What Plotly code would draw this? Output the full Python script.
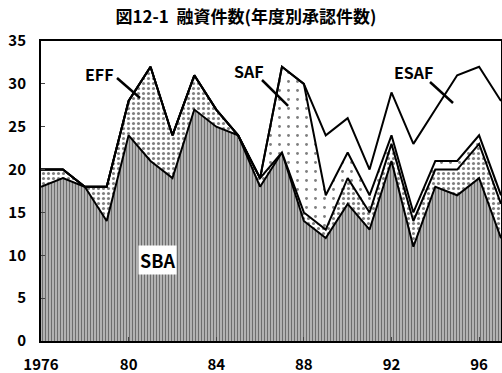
import plotly.graph_objects as go

years = list(range(1976, 1998))
sba = [18, 19, 18, 14, 24, 21, 19, 27, 25, 24, 18, 22, 14, 12, 16, 13, 21, 11, 18, 17, 19, 12]
eff = [2, 1, 0, 4, 4, 11, 5, 4, 2, 0, 1, 0, 1, 1, 3, 2, 2, 3, 2, 3, 4, 4]
saf = [0, 0, 0, 0, 0, 0, 0, 0, 0, 0, 0, 10, 15, 4, 3, 2, 1, 1, 1, 1, 1, 1]
esaf = [0, 0, 0, 0, 0, 0, 0, 0, 0, 0, 0, 0, 0, 7, 4, 3, 5, 8, 6, 10, 8, 11]

x_ticks = [1976, 1980, 1984, 1988, 1992, 1996]
x_labels = ["1976", "80", "84", "88", "92", "96"]
y_ticks = [0, 5, 10, 15, 20, 25, 30, 35]

title = "図12-1  融資件数(年度別承認件数)"
font_fam = "Noto Sans CJK JP, Liberation Sans, sans-serif"

fig = go.Figure()
line = dict(color="black", width=2)
fig.add_trace(go.Scatter(x=years, y=sba, stackgroup="a", mode="lines", line=line,
                         fillcolor="white",
                         fillpattern=dict(shape="|", size=3, solidity=0.5, fgcolor="#111", bgcolor="#c8c8c8"),
                         name="SBA"))
fig.add_trace(go.Scatter(x=years, y=eff, stackgroup="a", mode="lines", line=line,
                         fillcolor="white",
                         fillpattern=dict(shape=".", size=5, solidity=0.3, fgcolor="black", bgcolor="white"),
                         name="EFF"))
fig.add_trace(go.Scatter(x=years, y=saf, stackgroup="a", mode="lines", line=line,
                         fillcolor="white",
                         fillpattern=dict(shape=".", size=9, solidity=0.08, fgcolor="black", bgcolor="white"),
                         name="SAF"))
fig.add_trace(go.Scatter(x=years, y=esaf, stackgroup="a", mode="lines", line=line,
                         fillcolor="rgba(255,255,255,0)", name="ESAF"))

lab_font = dict(family=font_fam, size=16, color="black", weight="bold")
ann = [
    dict(x=1978.69, y=31.15, text="EFF"),
    dict(x=1985.5, y=31.5, text="SAF"),
    dict(x=1992.99, y=31.39, text="ESAF"),
]
for a in ann:
    fig.add_annotation(x=a["x"], y=a["y"], text=a["text"], showarrow=False, font=lab_font)
fig.add_annotation(x=1981.3, y=9.45, text="SBA", showarrow=False,
                   font=dict(family=font_fam, size=18, color="black", weight="bold"),
                   bgcolor="white", borderpad=1)

for (x0, y0, x1, y1) in [(1979.47, 30.69, 1980.52, 28.35), (1986.09, 30.45, 1987.28, 27.42), (1993.76, 30.22, 1994.81, 27.77)]:
    fig.add_shape(type="line", x0=x0, y0=y0, x1=x1, y1=y1, line=dict(color="black", width=2.5))

fig.update_layout(
    width=502, height=373,
    margin=dict(l=41, r=1, t=41, b=32, autoexpand=False),
    paper_bgcolor="white", plot_bgcolor="white",
    showlegend=False,
    title=dict(text=title, x=0.49, xanchor="center", y=0.953, yanchor="middle",
               font=dict(family=font_fam, size=17, color="black", weight="bold")),
    font=dict(family=font_fam, color="black"),
)
fig.update_xaxes(range=[1976, 1997], tickvals=x_ticks, ticktext=x_labels, showgrid=False, zeroline=False,
                 showline=True, linecolor="black", linewidth=2, mirror=True, ticks="inside", ticklen=4,
                 automargin=False,
                 tickfont=dict(family=font_fam, size=15, color="black", weight="bold"), ticklabelstandoff=9)
fig.update_yaxes(range=[0, 35], tickvals=y_ticks, showgrid=False, zeroline=False,
                 showline=True, linecolor="black", linewidth=2, mirror=True, ticks="inside", ticklen=4,
                 automargin=False,
                 tickfont=dict(family=font_fam, size=15, color="black", weight="bold"), ticklabelstandoff=10)

fig.write_html("out.html", config={"displayModeBar": False},
               post_script="document.body.style.margin='0px';")
